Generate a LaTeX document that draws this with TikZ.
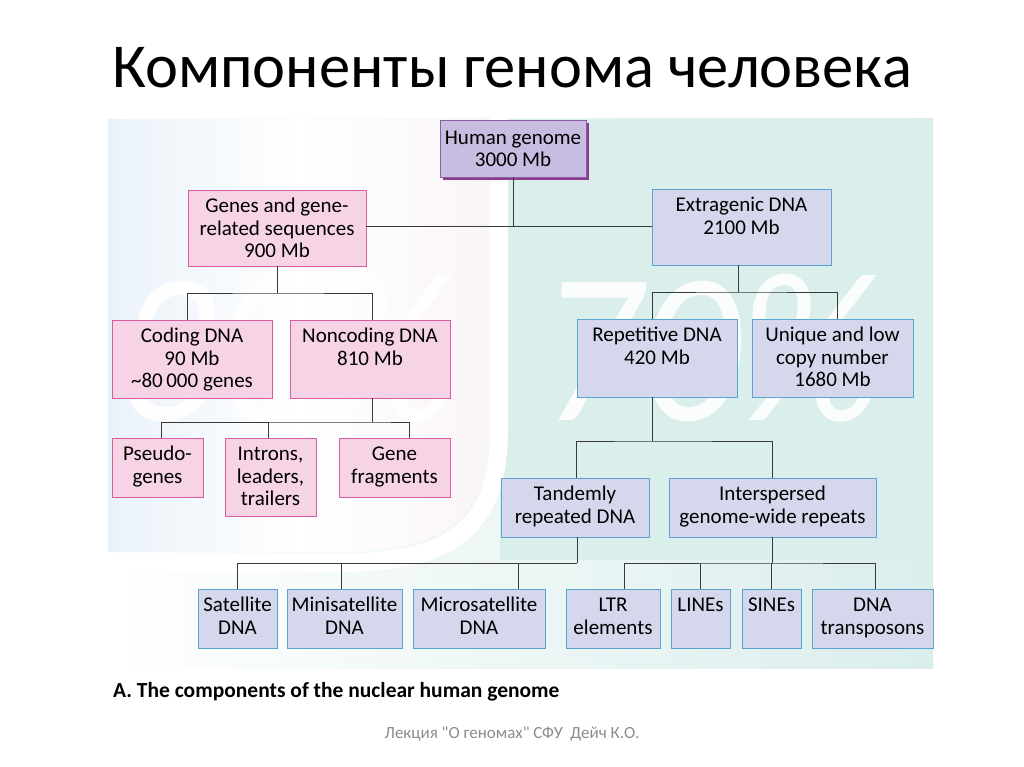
\documentclass[tikz,border=0pt]{standalone}
\usepackage{fontspec}
\setmainfont{Carlito}
\newfontfamily\footfont{Carlito}
\usetikzlibrary{calc,shadows}
\definecolor{pinkfill}{HTML}{F6D3E5}
\definecolor{pinkline}{HTML}{D65D9F}
\definecolor{bluefill}{HTML}{D5D8EC}
\definecolor{blueline}{HTML}{5AA5D0}
\definecolor{purfill}{HTML}{C8BDE0}
\definecolor{purline}{HTML}{8A5FA8}
\definecolor{purshadow}{HTML}{8E3A8E}
\definecolor{tealbg}{HTML}{DAEEEC}
\definecolor{leftbg}{HTML}{EAF2F9}
\definecolor{midbg}{HTML}{FAF5F8}
\definecolor{connc}{HTML}{3A3A3A}
\definecolor{footgray}{HTML}{8C8C8C}
\newcommand\fl{\rule{0pt}{16pt}}
\tikzset{
  box/.style={draw, line width=0.9pt, inner sep=0pt,
    drop shadow={shadow xshift=1.2pt, shadow yshift=-1.2pt, opacity=0.25, fill=black}},
  pbox/.style={box, fill=pinkfill, draw=pinkline},
  bbox/.style={box, fill=bluefill, draw=blueline},
  btxt/.style={anchor=north, align=center, inner sep=0pt, font=\fontsize{21}{22.5}\selectfont},
  conn/.style={draw=connc, line width=0.9pt},
  wmark/.style={font=\itshape\fontsize{215}{215}\selectfont, text=white, anchor=base west, inner sep=0pt, xscale=0.92},
}
\begin{document}
\begin{tikzpicture}[x=1pt,y=-1pt]
\useasboundingbox (0,0) rectangle (1024,767);
\fill[white] (0,0) rectangle (1024,767);
% background panel
\shade[left color=white, right color=tealbg, middle color=tealbg!50] (108,119) rectangle (933,668);
\fill[tealbg] (500,119) rectangle (933,560);
\shade[left color=leftbg, right color=midbg, middle color=white] (108,119) -- (490,119) -- (490,430)
   .. controls (490,530) and (430,552) .. (330,552) -- (108,552) -- cycle;
\draw[white, line width=18pt] (499,112) -- (499,430) .. controls (499,542) and (435,563) .. (330,563) -- (108,563);
\node[wmark, opacity=0.95] (w30) at (116,420) {30\%};
\node[wmark, opacity=0.9] (w70) at (540,420) {70\%};
% title
\node[font=\fontsize{62.5}{62.5}\selectfont, anchor=base, inner sep=0pt] (title) at (512,88) {Компоненты генома человека};
% level 0
\fill[purshadow] (443,123) rectangle (589,180);
\node[draw=purline, fill=purfill, line width=0.9pt, inner sep=0pt, minimum width=146pt, minimum height=57pt] (hg) at (513,148.5) {};
\node[btxt] (hg-t) at ([yshift=-8.5pt]hg.north) {\fl Human genome\\3000 Mb};
% level 1
\node[pbox, minimum width=178pt, minimum height=76pt] (genes) at (277,228) {};
\node[btxt] (genes-t) at ([yshift=-7pt]genes.north) {\fl Genes and gene-\\related sequences\\900 Mb};
\node[bbox, minimum width=179pt, minimum height=76pt] (extra) at (741.5,227) {};
\node[btxt] (extra-t) at ([yshift=-7pt]extra.north) {\fl Extragenic DNA\\2100 Mb};
% level 2
\node[pbox, minimum width=160pt, minimum height=78pt] (coding) at (192,359) {};
\node[btxt] (coding-t) at ([yshift=-7pt]coding.north) {\fl Coding DNA\\90 Mb\\\textasciitilde80\,000 genes};
\node[pbox, minimum width=160pt, minimum height=78pt] (noncoding) at (370,359) {};
\node[btxt] (noncoding-t) at ([yshift=-7pt]noncoding.north) {\fl Noncoding DNA\\810 Mb};
\node[bbox, minimum width=160pt, minimum height=78pt] (repet) at (657,358) {};
\node[btxt] (repet-t) at ([yshift=-7pt]repet.north) {\fl Repetitive DNA\\420 Mb};
\node[bbox, minimum width=161pt, minimum height=78pt] (unique) at (832.5,358) {};
\node[btxt] (unique-t) at ([yshift=-7pt]unique.north) {\fl Unique and low\\copy number\\1680 Mb};
% level 3
\node[pbox, minimum width=91pt, minimum height=59pt] (pseudo) at (157.5,467.5) {};
\node[btxt] (pseudo-t) at ([yshift=-7pt]pseudo.north) {\fl Pseudo-\\genes};
\node[pbox, minimum width=91pt, minimum height=78pt] (introns) at (270.5,477) {};
\node[btxt] (introns-t) at ([yshift=-7pt]introns.north) {\fl Introns,\\leaders,\\trailers};
\node[pbox, minimum width=111pt, minimum height=59pt] (frag) at (394.5,467.5) {};
\node[btxt] (frag-t) at ([yshift=-7pt]frag.north) {\fl Gene\\fragments};
\node[bbox, minimum width=148pt, minimum height=59pt] (tandem) at (575,507.5) {};
\node[btxt] (tandem-t) at ([yshift=-7pt]tandem.north) {\fl Tandemly\\repeated DNA};
\node[bbox, minimum width=207pt, minimum height=59pt] (inter) at (772.5,507.5) {};
\node[btxt] (inter-t) at ([yshift=-7pt]inter.north) {\fl Interspersed\\genome-wide repeats};
% level 4
\node[bbox, minimum width=79pt, minimum height=59pt] (sat) at (237.5,618.5) {};
\node[btxt] (sat-t) at ([yshift=-7pt]sat.north) {\fl Satellite\\DNA};
\node[bbox, minimum width=115pt, minimum height=59pt] (mini) at (344.5,618.5) {};
\node[btxt] (mini-t) at ([yshift=-7pt]mini.north) {\fl Minisatellite\\DNA};
\node[bbox, minimum width=132pt, minimum height=59pt] (micro) at (479,618.5) {};
\node[btxt] (micro-t) at ([yshift=-7pt]micro.north) {\fl Microsatellite\\DNA};
\node[bbox, minimum width=94pt, minimum height=59pt] (ltr) at (613,618.5) {};
\node[btxt] (ltr-t) at ([yshift=-7pt]ltr.north) {\fl LTR\\elements};
\node[bbox, minimum width=59pt, minimum height=59pt] (lines) at (700.5,618.5) {};
\node[btxt] (lines-t) at ([yshift=-7pt]lines.north) {\fl LINEs};
\node[bbox, minimum width=59pt, minimum height=59pt] (sines) at (771.5,618.5) {};
\node[btxt] (sines-t) at ([yshift=-7pt]sines.north) {\fl SINEs};
\node[bbox, minimum width=121pt, minimum height=59pt] (transp) at (872.5,618.5) {};
\node[btxt] (transp-t) at ([yshift=-7pt]transp.north) {\fl DNA\\transposons};
% junctions
\coordinate (j0) at (513,226);
\coordinate (j1) at (277,293);
\coordinate (j2) at (738,292);
\coordinate (j3) at (372.7,422);
\coordinate (j4) at (652,441);
\coordinate (j5) at (577,563);
\coordinate (j6) at (772,563);
% connectors
\draw[conn] (hg.south) -- (j0);
\draw[conn] (genes.east |- j0) -- (extra.west |- j0);
\draw[conn] (genes.south) -- (j1);
\draw[conn] ([xshift=-5pt]coding.north) |- (j1) -| ([xshift=2pt]noncoding.north);
\draw[conn] ([xshift=-3.5pt]extra.south) -- (j2);
\draw[conn] ([xshift=-5pt]repet.north) |- (j2) -| ([xshift=4.5pt]unique.north);
\draw[conn] ([xshift=2.7pt]noncoding.south) -- (j3);
\draw[conn] ([xshift=3.5pt]pseudo.north) |- (j3) -| ([xshift=14.5pt]frag.north);
\draw[conn] ([xshift=-2.5pt]introns.north) -- ([xshift=-2.5pt]introns.north |- j3);
\draw[conn] ([xshift=-5pt]repet.south) -- (j4);
\draw[conn] ([xshift=1pt]tandem.north) |- (j4) -| ([xshift=-0.5pt]inter.north);
\draw[conn] ([xshift=2pt]tandem.south) -- (j5);
\draw[conn] (sat.north) |- (j5);
\draw[conn] ([xshift=-3.5pt]mini.north) -- ([xshift=-3.5pt]mini.north |- j5);
\draw[conn] ([xshift=39pt]micro.north) -- ([xshift=39pt]micro.north |- j5);
\draw[conn] ([xshift=-0.5pt]inter.south) -- (j6);
\draw[conn] ([xshift=11pt]ltr.north) |- (j6) -| ([xshift=2.5pt]transp.north);
\draw[conn] (lines.north) -- (lines.north |- j6);
\draw[conn] (sines.north) -- (sines.north |- j6);
% caption and footer
\node[font=\bfseries\fontsize{21.5}{21.5}\selectfont, anchor=base west, inner sep=0pt] (cap) at (113,697) {A. The components of the nuclear human genome};
\node[font=\footfont\fontsize{17}{17}\selectfont, text=footgray, anchor=base, inner sep=0pt] (foot) at (512,738) {Лекция "О геномах" СФУ\ \ Дейч К.О.};
\end{tikzpicture}
\end{document}
